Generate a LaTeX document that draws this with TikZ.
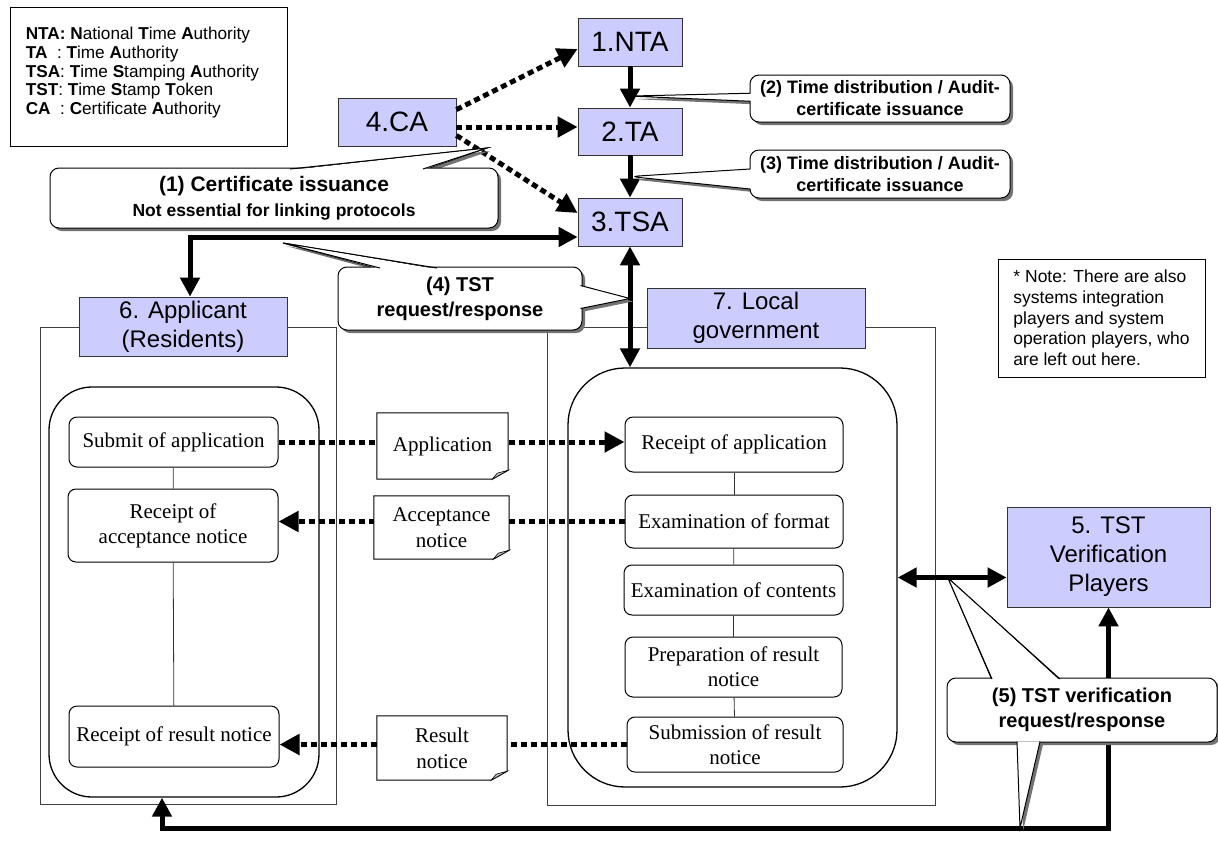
\documentclass[tikz,border=0pt]{standalone}
\usepackage{fontspec}
\setmainfont{Liberation Serif}
\setsansfont{Liberation Sans}
\usetikzlibrary{arrows.meta,calc,positioning,shapes.callouts,shadows}
\definecolor{lav}{RGB}{204,204,255}
\tikzset{
  player/.style={draw=black!80, line width=0.8pt, fill=lav, inner sep=0pt, align=center,
    font=\sffamily\fontsize{28}{30}\selectfont},
  player2/.style={player, font=\sffamily\fontsize{24}{29}\selectfont},
  frame/.style={draw=black!75, line width=0.8pt, inner sep=0pt},
  flow/.style={draw, line width=1.3pt, inner sep=0pt},
  proc/.style={draw, line width=1pt, rounded corners=8pt, fill=white, inner sep=0pt, align=center,
    font=\fontsize{21}{25}\selectfont},
  doc/.style={inner sep=0pt, fill=white, align=center, font=\fontsize{21}{26}\selectfont},
  shade/.style={drop shadow={shadow xshift=3pt, shadow yshift=-3pt, fill=black!55, opacity=1}},
  bubble/.style={draw, fill=white, line width=1pt, rounded corners=9pt, inner sep=0pt,
    align=center, font=\sffamily\bfseries\fontsize{20}{25}\selectfont, shade},
  say/.style={bubble, rectangle callout},
  tail/.style={line width=1pt, fill=white},
  link/.style={line width=5pt, -{Triangle[length=19pt,width=19pt]}},
  dlink/.style={line width=5pt, {Triangle[length=19pt,width=19pt]}-{Triangle[length=19pt,width=19pt]}},
  msg/.style={line width=5pt, dash pattern=on 6pt off 4pt, -{Triangle[length=20pt,width=20pt]}},
  thinline/.style={line width=0.8pt, draw=black!80}
}
% note with a turned-down corner
\newcommand\dogear[1]{%
  \draw[line width=1pt] (#1.north west) -- (#1.north east) -- ($(#1.south east)+(0,-9)$)
    -- ($(#1.south east)+(-16,0)$) -- (#1.south west) -- cycle;
  \draw[line width=0.6pt, fill=black!25] ($(#1.south east)+(-16,0)$) -- ($(#1.south east)+(0,-9)$)
    -- ($(#1.south east)+(-11,-6)$) -- cycle;}
\begin{document}
\begin{tikzpicture}[x=1pt, y=-1pt]
\useasboundingbox (0,0) rectangle (1218,855);

% legend
\node[frame, draw=black, minimum width=277pt, minimum height=139pt] (key) at (148.5,76.5) {};
\node[anchor=north west, align=left, inner sep=0pt, font=\sffamily\fontsize{17.2}{18.9}\selectfont]
  (keytext) at ($(key.north west)+(16,20)$)
  {\textbf{NTA:} \textbf{N}ational \textbf{T}ime \textbf{A}uthority\\
   \textbf{TA}\ \ : \textbf{T}ime \textbf{A}uthority\\
   \textbf{TSA}: \textbf{T}ime \textbf{S}tamping \textbf{A}uthority\\
   \textbf{TST}: \textbf{T}ime \textbf{S}tamp \textbf{T}oken\\
   \textbf{CA}\ \ : \textbf{C}ertificate \textbf{A}uthority};

% note
\node[frame, draw=black, minimum width=207pt, minimum height=118pt, align=left,
  font=\sffamily\fontsize{17.5}{20.7}\selectfont] (note) at (1101.5,318)
  {* Note: There are also\\systems integration\\players and system\\operation players, who\\are left out here.};

% frames of the two sides
\node[frame, minimum width=296pt, minimum height=477pt] (appframe) at (188,565.5) {};
\node[frame, minimum width=388pt, minimum height=478pt] (lgframe) at (741,566) {};

% players
\node[player, minimum width=104pt, minimum height=48pt] (nta) at (630,42) {1.NTA};
\node[player, minimum width=104pt, minimum height=47pt] (ta) at (630,131.5) {2.TA};
\node[player, minimum width=104pt, minimum height=48pt] (tsa) at (630,222) {3.TSA};
\node[player, minimum width=118pt, minimum height=48pt] (ca) at (397,122) {4.CA};
\node[player2, minimum width=203pt, minimum height=100pt] (verif) at (1108.5,557) {5. TST\\Verification\\Players};
\node[player2, minimum width=208pt, minimum height=59pt] (app) at (183,326.5) {6. Applicant\\(Residents)};
\node[player2, minimum width=218pt, minimum height=60pt] (lg) at (756,318) {7. Local\\government};

% business flows
\node[flow, rounded corners=43pt, minimum width=270pt, minimum height=410pt] (appin) at (184,592) {};
\node[flow, rounded corners=57pt, minimum width=329pt, minimum height=419pt] (lgin) at (732.5,577.5) {};

\node[proc, minimum width=209pt, minimum height=50pt] (sub) at (173.5,442) {Submit of application};
\node[proc, minimum width=210pt, minimum height=73pt] (racc) at (173,525.5) {Receipt of\\acceptance notice};
\node[proc, minimum width=210pt, minimum height=61pt] (rres) at (174,736.5) {Receipt of result notice};

\node[proc, minimum width=218pt, minimum height=55pt] (rapp) at (734,444.5) {Receipt of application};
\node[proc, minimum width=218pt, minimum height=53pt] (efmt) at (734,521.5) {Examination of format};
\node[proc, minimum width=219pt, minimum height=50pt] (econ) at (733.5,590) {Examination of contents};
\node[proc, minimum width=217pt, minimum height=60pt] (prep) at (733.5,667) {Preparation of result\\notice};
\node[proc, minimum width=216pt, minimum height=55pt] (subm) at (735,744.5) {Submission of result\\notice};

\draw[thinline] (sub) -- (racc);
\draw[thinline] (racc) -- (rres);
\draw[thinline] (rapp) -- (efmt);
\draw[thinline] (efmt) -- (econ);
\draw[thinline] (econ) -- (prep);
\draw[thinline] (prep) -- (subm);

% documents passed between both sides
\draw[msg] (sub.east) -- (sub.east -| rapp.west);
\draw[msg] (efmt.west) -- (efmt.west -| racc.east);
\draw[msg] (subm.west) -- (subm.west -| rres.east);

\node[doc, minimum width=131pt, minimum height=66pt] (appl) at (442.5,446) {Application};
\node[doc, minimum width=135pt, minimum height=63pt] (accn) at (441.5,527.5) {Acceptance\\notice};
\node[doc, minimum width=130pt, minimum height=64pt] (resn) at (442,748) {Result\\notice};
\dogear{appl}
\dogear{accn}
\dogear{resn}

% certificates and time
\draw[msg] ($(ca.north east)+(0,12)$) -- ($(nta.west)+(0,7)$);
\draw[msg] ($(ca.east)+(0,5)$) -- ($(ta.west)+(0,-4.5)$);
\draw[msg] ($(ca.south east)+(0,-11)$) -- ($(tsa.west)+(0,-9)$);
\draw[link] (nta) -- (ta);
\draw[link] (ta) -- (tsa);

% time stamp tokens
\draw[dlink] ($(tsa.west)+(0,15)$) -| ($(app.north)+(7,0)$);
\draw[dlink] (tsa.south) -- (tsa.south |- lgin.north);
\draw[dlink] (lgin.east) -- (lgin.east -| verif.west);
\draw[dlink] ($(appin.south)+(-22,0)$) -- ++(0,31) -| (verif.south);

% callouts
\coordinate (tip2) at ($(nta.south)!0.72!(ta.north)$);
\coordinate (tip3) at ($(ta.south)!0.5!(tsa.north)$);

\draw[tail, shade] (290,170) -- (487,148) -- (423,170);
\node[bubble, minimum width=448pt, minimum height=60pt] (cert) at (274,198)
  {{\fontsize{21}{25}\selectfont (1) Certificate issuance}\\{\fontsize{17.5}{20}\selectfont Not essential for linking protocols}};
\fill[white] (291,170) -- (487,148) -- (422,170) -- cycle;
\draw[line width=1pt] (290,169) -- (487,148) -- (423,169);

\node[say, minimum width=260pt, minimum height=47pt, callout absolute pointer={(tip2)},
  callout pointer width=8pt, font=\sffamily\bfseries\fontsize{18}{22}\selectfont] (dist2) at (880,98.5)
  {(2) Time distribution / Audit-\\certificate issuance};
\node[say, minimum width=260pt, minimum height=48pt, callout absolute pointer={(tip3)},
  callout pointer width=20pt, font=\sffamily\bfseries\fontsize{18}{22}\selectfont] (dist3) at (880,174)
  {(3) Time distribution / Audit-\\certificate issuance};

\draw[tail, shade] (380,269) -- (283,243) -- (437,269);
\node[bubble, minimum width=244pt, minimum height=63pt] (tstreq) at (460,298.5) {(4) TST\\request/response};
\fill[white] (381,269) -- (283,243) -- (436,269) -- cycle;
\draw[line width=1pt] (380,268) -- (283,243) -- (437,268);
\draw[tail, shade] ($(tstreq.east)+(-2,-13)$) -- (tsa.south |- tstreq.east) -- ($(tstreq.east)+(-2,10)$);

\draw[tail, shade] (992,680) -- (948,578) -- (1060,680);
\node[bubble, minimum width=270pt, minimum height=64pt] (verreq) at (1082,710) {(5) TST verification\\request/response};
\fill[white] (993,680) -- (948,578) -- (1059,680) -- cycle;
\draw[line width=1pt] (992,679) -- (948,578) -- (1060,679);
\draw[tail, shade] ($(verreq.south)+(-65,-1)$) -- (1020,828) -- ($(verreq.south)+(-42,-1)$);
\end{tikzpicture}
\end{document}
